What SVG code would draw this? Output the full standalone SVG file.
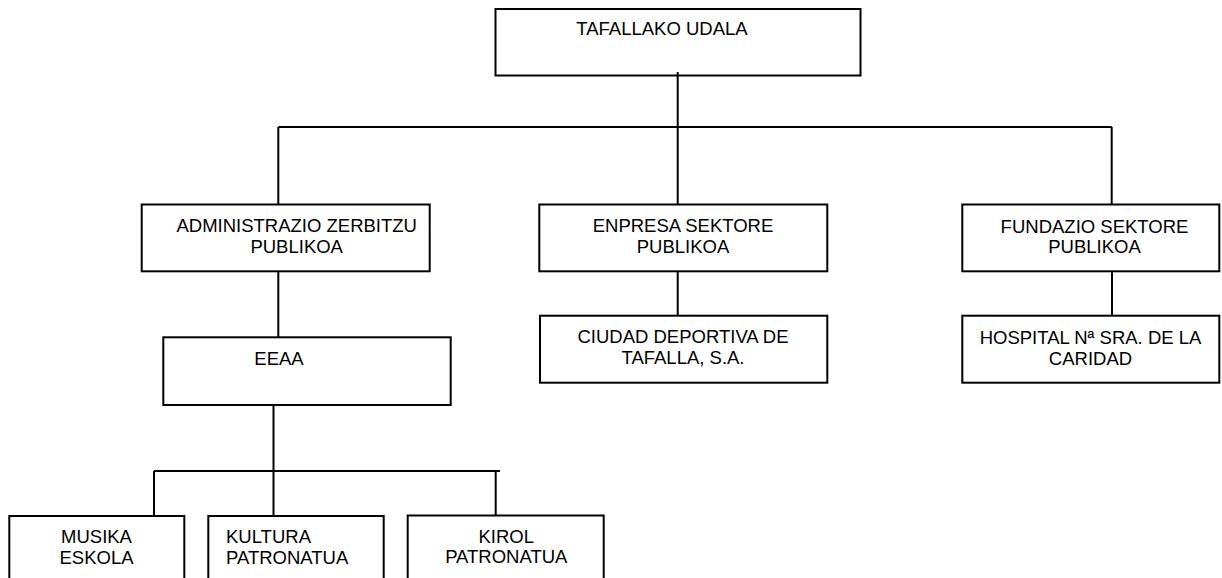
<svg xmlns="http://www.w3.org/2000/svg" width="1222" height="578" viewBox="0 0 1222 578">
<style>
.box{fill:#fff;stroke:#000;stroke-width:2}
.ln{stroke:#000;stroke-width:2;fill:none}
text{font-family:"Liberation Sans",Arial,sans-serif;font-size:18.5px;fill:#000}
.c{text-anchor:middle}
</style>
<rect width="1222" height="578" fill="#fff"/>
<g id="connectors">
<line class="ln" x1="677.7" y1="72" x2="677.7" y2="204.5"/>
<line class="ln" x1="278.3" y1="127" x2="1111.7" y2="127"/>
<line class="ln" x1="278.3" y1="127" x2="278.3" y2="204.5"/>
<line class="ln" x1="1111.7" y1="127" x2="1111.7" y2="204.5"/>
<line class="ln" x1="278.3" y1="271" x2="278.3" y2="337.5"/>
<line class="ln" x1="677.7" y1="271" x2="677.7" y2="315.7"/>
<line class="ln" x1="1112" y1="271" x2="1112" y2="315.7"/>
<line class="ln" x1="273.5" y1="369" x2="273.5" y2="516"/>
<line class="ln" x1="154" y1="471" x2="500" y2="471"/>
<line class="ln" x1="154" y1="471" x2="154" y2="516"/>
<line class="ln" x1="495.7" y1="471" x2="495.7" y2="516"/>
</g>
<g id="tafallako-udala">
<rect class="box" x="495.5" y="9" width="365" height="66.5"/>
<text class="c" x="662" y="35">TAFALLAKO UDALA</text>
</g>
<line class="ln" x1="677.7" y1="72" x2="677.7" y2="76"/>
<g id="administrazio">
<rect class="box" x="141.7" y="204.5" width="288" height="66.8"/>
<text class="c" x="296.7" y="232">ADMINISTRAZIO ZERBITZU</text>
<text class="c" x="296.7" y="253">PUBLIKOA</text>
</g>
<g id="enpresa">
<rect class="box" x="539.3" y="204.5" width="288" height="66.8"/>
<text class="c" x="683" y="232">ENPRESA SEKTORE</text>
<text class="c" x="683" y="252.5">PUBLIKOA</text>
</g>
<g id="fundazio">
<rect class="box" x="962.3" y="204.5" width="257" height="66.8"/>
<text class="c" x="1094.5" y="232.5">FUNDAZIO SEKTORE</text>
<text class="c" x="1094.5" y="253.3">PUBLIKOA</text>
</g>
<g id="ciudad">
<rect class="box" x="540" y="315.7" width="287.3" height="67"/>
<text class="c" x="683" y="343.3">CIUDAD DEPORTIVA DE</text>
<text class="c" x="683" y="364">TAFALLA, S.A.</text>
</g>
<g id="hospital">
<rect class="box" x="962.3" y="315.7" width="257" height="67"/>
<text class="c" x="1090.5" y="344">HOSPITAL Nª SRA. DE LA</text>
<text class="c" x="1090.5" y="365">CARIDAD</text>
</g>
<g id="eeaa">
<rect class="box" x="163.3" y="337.3" width="287.4" height="67.7"/>
<text class="c" x="279" y="365">EEAA</text>
</g>
<g id="musika">
<rect class="box" x="9.3" y="516" width="175" height="70"/>
<text class="c" x="96.5" y="543.3">MUSIKA</text>
<text class="c" x="96.5" y="564">ESKOLA</text>
</g>
<g id="kultura">
<rect class="box" x="208.3" y="516" width="175.4" height="70"/>
<text x="226" y="543.3">KULTURA</text>
<text x="226" y="564">PATRONATUA</text>
</g>
<g id="kirol">
<rect class="box" x="407.7" y="515.5" width="196" height="70"/>
<text class="c" x="506.3" y="542.7">KIROL</text>
<text class="c" x="506.3" y="563.3">PATRONATUA</text>
</g>
</svg>
